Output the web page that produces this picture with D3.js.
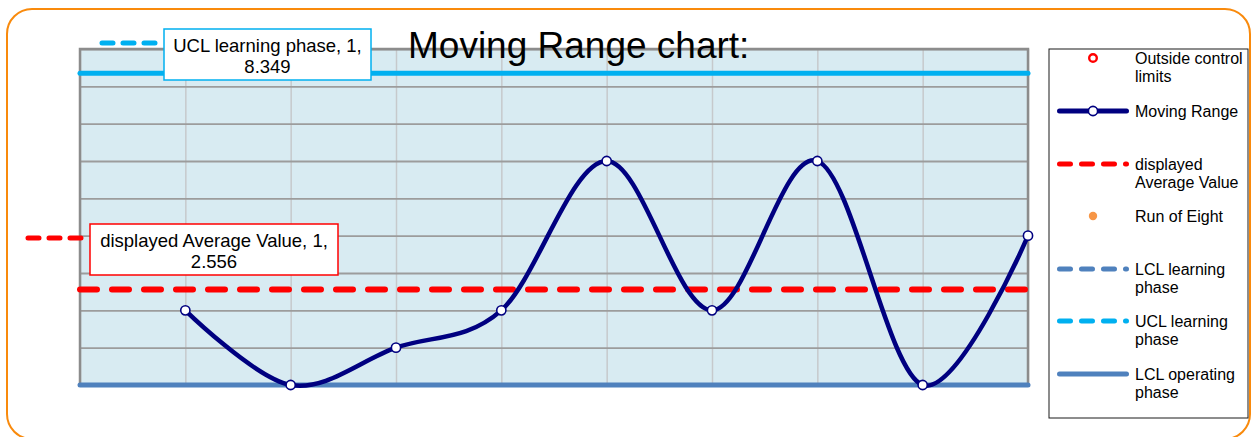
<!DOCTYPE html>
<html>
<head>
<meta charset="utf-8">
<script src="https://cdn.jsdelivr.net/npm/d3@7"></script>
<style>
  html, body { margin: 0; padding: 0; background: #fff; }
  svg { display: block; font-family: "Liberation Sans", Arial, sans-serif; }
</style>
</head>
<body>
<svg id="chart" width="1252" height="437"></svg>
<script>
// ---- data ----
const categories = [1, 2, 3, 4, 5, 6, 7, 8, 9, 10];
const movingRange = [null, 2, 0, 1, 2, 6, 2, 6, 0, 4];
const averageValue = [2.556];
const uclLearning = [8.349];
const lclOperating = [0];
const yTicks = [0, 1, 2, 3, 4, 5, 6, 7, 8, 9];
const chartTitle = "Moving Range chart:";
const legendLabels = [
  ["Outside control", "limits"],
  ["Moving Range"],
  ["displayed", "Average Value"],
  ["Run of Eight"],
  ["LCL learning", "phase"],
  ["UCL learning", "phase"],
  ["LCL operating", "phase"]
];
const labelSeries = ["UCL learning phase", "displayed Average Value"];

// ---- layout ----
const svg = d3.select("#chart");
const plot = { left: 80, right: 1028, top: 49, bottom: 385 };
const x = d3.scaleLinear().domain([1, 10]).range([plot.left, plot.right]);
const y = d3.scaleLinear().domain([0, 9]).range([plot.bottom, plot.top]);

// outer rounded border
svg.append("rect")
  .attr("x", 7).attr("y", 9).attr("width", 1243).attr("height", 430)
  .attr("rx", 25).attr("ry", 25)
  .attr("fill", "#fff").attr("stroke", "#f98a0c").attr("stroke-width", 2);

// plot background
svg.append("rect")
  .attr("x", plot.left).attr("y", plot.top)
  .attr("width", plot.right - plot.left).attr("height", plot.bottom - plot.top)
  .attr("fill", "#d8ebf2");

// vertical gridlines
const xg = svg.append("g").attr("transform", `translate(0,${plot.bottom})`)
  .call(d3.axisBottom(x).tickValues(categories).tickSize(-(plot.bottom - plot.top)).tickFormat(""));
xg.select(".domain").remove();
xg.selectAll("line").attr("stroke", "#c6c9cc").attr("stroke-width", 1.5);

// horizontal gridlines
const yg = svg.append("g").attr("transform", `translate(${plot.left},0)`)
  .call(d3.axisLeft(y).tickValues(yTicks).tickSize(-(plot.right - plot.left)).tickFormat(""));
yg.select(".domain").remove();
yg.selectAll("line").attr("stroke", "#9c9c9c").attr("stroke-width", 1.8);

// plot border (left, top, right)
svg.append("path")
  .attr("d", `M${plot.left},${plot.bottom} V${plot.top} H${plot.right} V${plot.bottom}`)
  .attr("fill", "none").attr("stroke", "#8c8c8c").attr("stroke-width", 2.5);

const hline = v => d3.line()([[x(categories[0]), y(v)], [x(categories[categories.length - 1]), y(v)]]);

// UCL learning phase line
svg.append("path").attr("d", hline(uclLearning[0]))
  .attr("stroke", "#00b0f0").attr("stroke-width", 5).attr("stroke-linecap", "round").attr("fill", "none");

// LCL operating phase line
svg.append("path").attr("d", hline(lclOperating[0]))
  .attr("stroke", "#4f81bd").attr("stroke-width", 5).attr("stroke-linecap", "round").attr("fill", "none");

// average line
svg.append("path").attr("d", hline(averageValue[0]))
  .attr("stroke", "#ff0000").attr("stroke-width", 6).attr("stroke-linecap", "round")
  .attr("stroke-dasharray", "17,15").attr("fill", "none");

// moving range line
const mrData = categories.map((c, i) => ({ c, v: movingRange[i] })).filter(d => d.v !== null);
svg.append("path").datum(mrData)
  .attr("d", d3.line().x(d => x(d.c)).y(d => y(d.v)).curve(d3.curveCardinal.tension(0)))
  .attr("fill", "none").attr("stroke", "#000080").attr("stroke-width", 4.5);
svg.selectAll(".mr-pt").data(mrData).enter().append("circle")
  .attr("cx", d => x(d.c)).attr("cy", d => y(d.v)).attr("r", 4.6)
  .attr("fill", "#fff").attr("stroke", "#000080").attr("stroke-width", 1.6);

// title
svg.append("text").attr("x", 408).attr("y", 58)
  .attr("font-size", 37).attr("fill", "#000").text(chartTitle);

// data labels
function dataLabel(name, cat, val, box, keyColor) {
  const g = svg.append("g");
  g.append("line")
    .attr("x1", box.x - 62).attr("x2", box.x - 3).attr("y1", box.keyY).attr("y2", box.keyY)
    .attr("stroke", keyColor).attr("stroke-width", 5).attr("stroke-linecap", "round")
    .attr("stroke-dasharray", "11,10");
  g.append("rect").attr("x", box.x).attr("y", box.y).attr("width", box.w).attr("height", box.h)
    .attr("fill", "#fff").attr("stroke", keyColor).attr("stroke-width", 1.5);
  const t = g.append("text").attr("text-anchor", "middle").attr("font-size", 18.5).attr("fill", "#000");
  t.append("tspan").attr("x", box.x + box.w / 2).attr("y", box.y + 23).text(`${name}, ${cat},`);
  t.append("tspan").attr("x", box.x + box.w / 2).attr("y", box.y + 44).text(d3.format(".3f")(val));
}
dataLabel(labelSeries[0], categories[0], uclLearning[0], { x: 164, y: 29, w: 207, h: 51, keyY: 43 }, "#00b0f0");
dataLabel(labelSeries[1], categories[0], averageValue[0], { x: 90, y: 224, w: 248, h: 51, keyY: 238 }, "#ff0000");

// legend
const lg = svg.append("g");
lg.append("rect").attr("x", 1049).attr("y", 49).attr("width", 199).attr("height", 369)
  .attr("fill", "#fff").attr("stroke", "#1a1a1a").attr("stroke-width", 1);
const rowY = [58, 111, 164, 216, 269, 321, 374];
const symX1 = 1059.5, symX2 = 1126.5, symC = 1093;
legendLabels.forEach((lines, i) => {
  const cy = rowY[i];
  const row = lg.append("g");
  if (i === 0) {
    row.append("circle").attr("cx", symC).attr("cy", cy).attr("r", 3.8)
      .attr("fill", "#fff").attr("stroke", "#ff0000").attr("stroke-width", 2.4);
  } else if (i === 1) {
    row.append("line").attr("x1", symX1).attr("x2", symX2).attr("y1", cy).attr("y2", cy)
      .attr("stroke", "#000080").attr("stroke-width", 5).attr("stroke-linecap", "round");
    row.append("circle").attr("cx", symC).attr("cy", cy).attr("r", 4.6)
      .attr("fill", "#fff").attr("stroke", "#000080").attr("stroke-width", 1.6);
  } else if (i === 3) {
    row.append("circle").attr("cx", symC).attr("cy", cy).attr("r", 4.2)
      .attr("fill", "#f79646");
  } else {
    const color = { 2: "#ff0000", 4: "#4f81bd", 5: "#00b0f0", 6: "#4f81bd" }[i];
    row.append("line").attr("x1", symX1).attr("x2", symX2).attr("y1", cy).attr("y2", cy)
      .attr("stroke", color).attr("stroke-width", 5).attr("stroke-linecap", "round")
      .attr("stroke-dasharray", i === 6 ? null : "11,11");
  }
  const t = row.append("text").attr("font-size", 16).attr("fill", "#000");
  lines.forEach((ln, k) => {
    t.append("tspan").attr("x", 1135).attr("y", cy + 5.5 + k * 18.5).text(ln);
  });
});
</script>
</body>
</html>
